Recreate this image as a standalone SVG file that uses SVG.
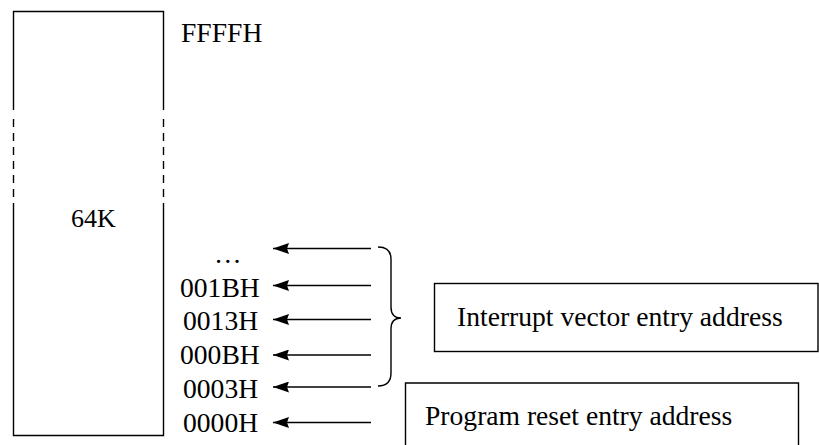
<svg xmlns="http://www.w3.org/2000/svg" width="819" height="445" viewBox="0 0 819 445">
<defs>
<marker id="ah" viewBox="0 0 16 11" refX="0" refY="5.5" markerWidth="16" markerHeight="11" markerUnits="userSpaceOnUse" orient="auto">
<path d="M0,5.5 L16,0 L14,5.5 L16,11 Z" fill="#000"/>
</marker>
</defs>
<style>
text{font-family:"Liberation Serif","Times New Roman",serif;font-size:27.6px;fill:#000}
.ln{stroke:#000;stroke-width:1.4;fill:none}
.dash{stroke:#000;stroke-width:1.4;fill:none;stroke-dasharray:8 6}
.arr{stroke:#000;stroke-width:1.6;fill:none;marker-start:url(#ah)}
</style>
<rect width="819" height="445" fill="#fff"/>
<g id="memory">
<path class="ln" d="M13.5,110 L13.5,11.5 L163.5,11.5 L163.5,110"/>
<path class="dash" d="M13.5,119 L13.5,203 M163.5,119 L163.5,203"/>
<path class="ln" d="M13.5,203 L13.5,435.5 L163.5,435.5 L163.5,203"/>
<text x="71" y="227" style="font-size:26px">64K</text>
</g>
<g id="labels">
<text x="181" y="42">FFFFH</text>
<text x="214" y="263">…</text>
<text x="180" y="297">001BH</text>
<text x="183" y="330">0013H</text>
<text x="180" y="364">000BH</text>
<text x="183" y="398">0003H</text>
<text x="183" y="432">0000H</text>
</g>
<g id="connectors">
<line class="arr" x1="273" y1="248.5" x2="371" y2="248.5"/>
<line class="arr" x1="273" y1="285.5" x2="371" y2="285.5"/>
<line class="arr" x1="273" y1="319.5" x2="371" y2="319.5"/>
<line class="arr" x1="273" y1="355" x2="371" y2="355"/>
<line class="arr" x1="273" y1="387" x2="371" y2="387"/>
<line class="arr" x1="273" y1="422.5" x2="371" y2="422.5"/>
<path class="ln" d="M378,247 Q391,247 391,259 L391,307 Q391,318 401,318 Q391,318 391,329 L391,373 Q391,386 378,386"/>
</g>
<g id="interrupt">
<rect class="ln" x="434.5" y="283.5" width="383.5" height="68"/>
<text x="457" y="326">Interrupt vector entry address</text>
</g>
<g id="reset">
<path class="ln" d="M405.5,446 L405.5,383 L798.5,383 L798.5,446"/>
<text x="425" y="425">Program reset entry address</text>
</g>
</svg>
